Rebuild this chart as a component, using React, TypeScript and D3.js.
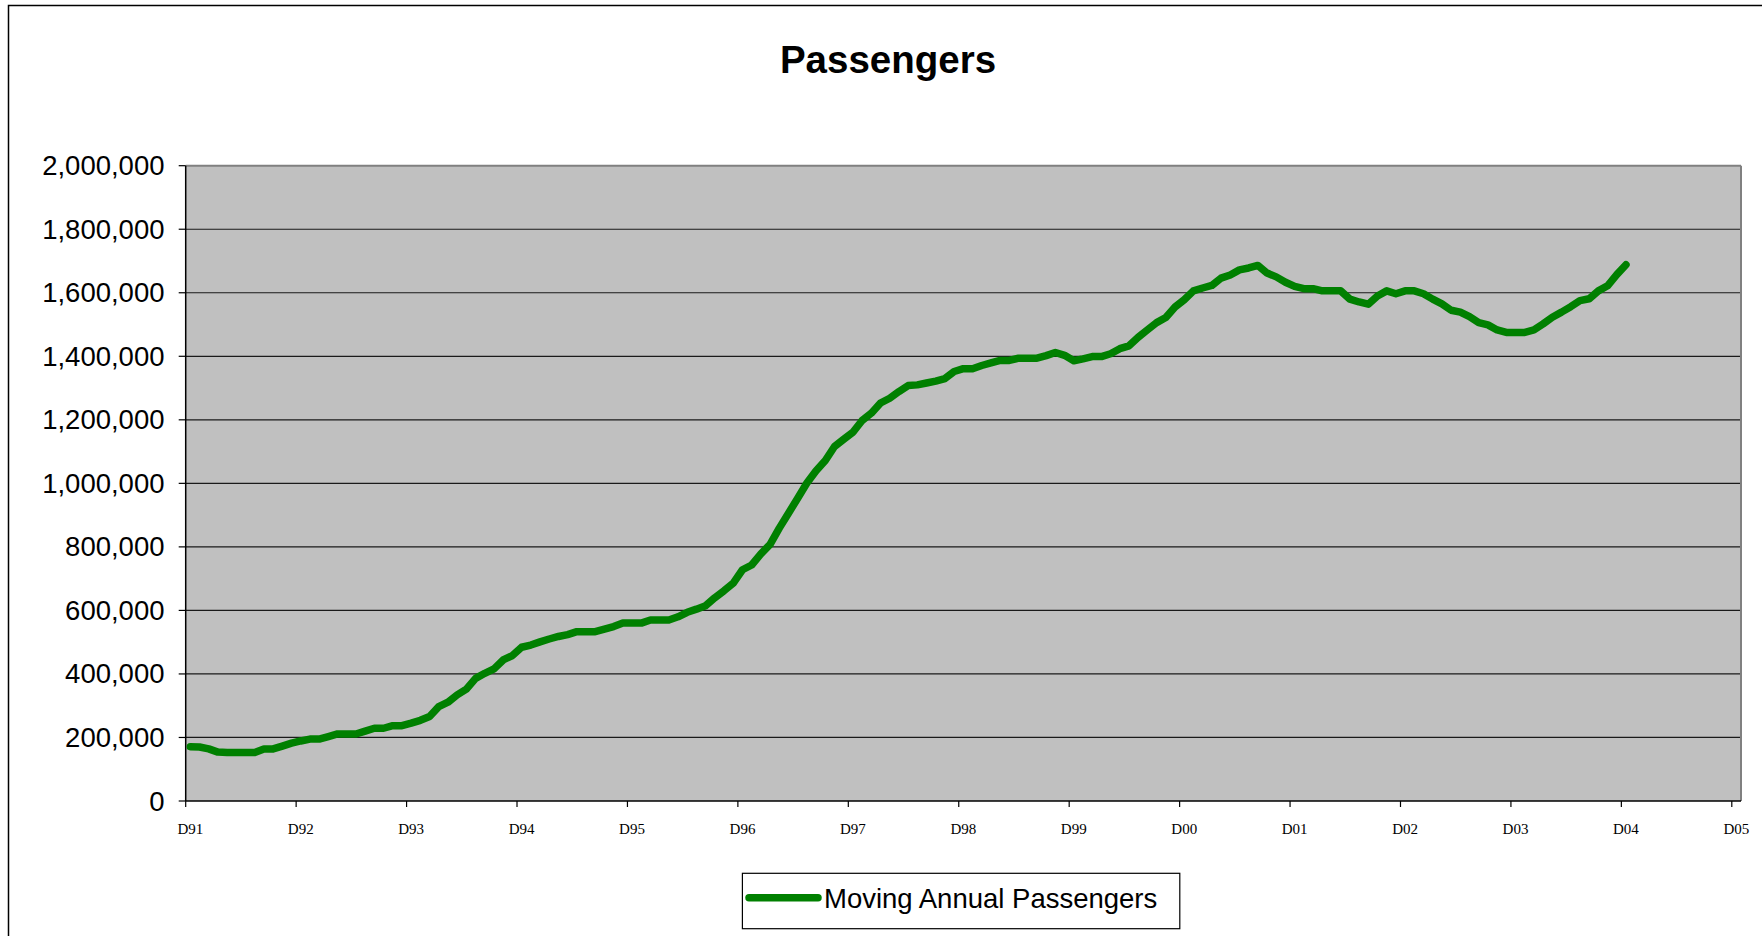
import React from "react";
import * as d3 from "d3";

// Monthly index from D91 (Dec 1991) and moving annual passengers (thousands)
const months: number[] = Array.from({ length: 157 }, (_, i) => i);
const passengersK: number[] = [
  171, 170, 164, 154, 153, 153, 153, 153, 164, 164,
  173, 182, 189, 195, 195, 203, 211, 211, 211, 220,
  229, 229, 237, 237, 245, 254, 266, 297, 311, 334,
  352, 386, 402, 416, 444, 458, 484, 491, 501, 510,
  518, 524, 533, 533, 533, 541, 549, 560, 560, 560,
  570, 570, 570, 580, 594, 604, 615, 640, 662, 686,
  728, 743, 778, 808, 859, 906, 953, 1001, 1040, 1072,
  1116, 1139, 1161, 1198, 1221, 1253, 1268, 1289, 1308, 1310,
  1316, 1322, 1330, 1352, 1361, 1361, 1371, 1379, 1387, 1387,
  1394, 1394, 1394, 1402, 1412, 1403, 1386, 1392, 1399, 1399,
  1408, 1424, 1433, 1460, 1483, 1506, 1522, 1555, 1578, 1606,
  1615, 1623, 1646, 1656, 1672, 1678, 1686, 1662, 1650, 1633,
  1620, 1613, 1613, 1606, 1606, 1606, 1580, 1571, 1564, 1590,
  1606, 1597, 1606, 1606, 1597, 1580, 1565, 1545, 1539, 1525,
  1506, 1499, 1483, 1475, 1475, 1475, 1483, 1502, 1523, 1539,
  1556, 1575, 1581, 1606, 1622, 1657, 1688,
];
const xTickLabels: string[] = [
  "D91", "D92", "D93", "D94", "D95", "D96", "D97", "D98",
  "D99", "D00", "D01", "D02", "D03", "D04", "D05",
];
const yTicks: number[] = [0, 200000, 400000, 600000, 800000, 1000000, 1200000, 1400000, 1600000, 1800000, 2000000];
const title = "Passengers";
const seriesName = "Moving Annual Passengers";

const W = 1762;
const H = 936;
const L = 185.7, R = 1741, T = 165.7, B = 801;

export default function App() {
  const x = d3.scaleLinear().domain([0, 169]).range([L, R]);
  const y = d3.scaleLinear().domain([0, 2000000]).range([B, T]);
  const fmt = d3.format(",");
  const data = months.map((m, i) => ({ m, v: passengersK[i] * 1000 }));
  const line = d3
    .line<{ m: number; v: number }>()
    .x((d) => x(d.m + 0.5))
    .y((d) => y(d.v));

  return (
    <svg
      width={W}
      height={H}
      style={{ position: "absolute", left: 0, top: 0, display: "block", background: "#fff" }}
    >
      <rect x={8.5} y={5.5} width={2000} height={2000} fill="#fff" stroke="#000" strokeWidth={1.5} />
      <text
        x={888}
        y={72.7}
        textAnchor="middle"
        fontFamily="'Liberation Sans', Arial, sans-serif"
        fontWeight="bold"
        fontSize={38.5}
        fill="#000"
      >
        {title}
      </text>

      <rect x={L} y={T} width={R - L} height={B - T} fill="#C0C0C0" />
      {yTicks.slice(1, -1).map((t) => (
        <line key={t} x1={L} x2={R} y1={y(t)} y2={y(t)} stroke="#1a1a1a" strokeWidth={1.2} />
      ))}
      {/* plot border top/right gray */}
      <line x1={L} x2={R} y1={T} y2={T} stroke="#808080" strokeWidth={2} />
      <line x1={R} x2={R} y1={T} y2={B} stroke="#808080" strokeWidth={2} />

      {/* y axis */}
      <line x1={L} x2={L} y1={T} y2={B} stroke="#000" strokeWidth={1.5} />
      {yTicks.map((t) => (
        <g key={t}>
          <line x1={L - 7} x2={L} y1={y(t)} y2={y(t)} stroke="#000" strokeWidth={1.2} />
          <text
            x={164.5}
            y={y(t) + 9.5}
            textAnchor="end"
            fontFamily="'Liberation Sans', Arial, sans-serif"
            fontSize={27.5}
            fill="#000"
          >
            {fmt(t)}
          </text>
        </g>
      ))}

      {/* x axis */}
      <line x1={L} x2={R} y1={B} y2={B} stroke="#000" strokeWidth={1.5} />
      {xTickLabels.map((lab, i) => (
        <g key={lab}>
          <line x1={x(i * 12)} x2={x(i * 12)} y1={B} y2={B + 6} stroke="#000" strokeWidth={1.2} />
          <text
            x={x(i * 12 + 0.5)}
            y={834}
            textAnchor="middle"
            fontFamily="'Liberation Serif', 'Times New Roman', serif"
            fontSize={15}
            fill="#000"
          >
            {lab}
          </text>
        </g>
      ))}

      <path
        d={line(data) || ""}
        fill="none"
        stroke="#008000"
        strokeWidth={7.5}
        strokeLinejoin="round"
        strokeLinecap="round"
      />

      {/* legend */}
      <rect x={742.4} y={873.3} width={437.4} height={55.4} fill="#fff" stroke="#000" strokeWidth={1.2} />
      <line x1={749} x2={818} y1={897.7} y2={897.7} stroke="#008000" strokeWidth={7.5} strokeLinecap="round" />
      <text
        x={824}
        y={907.5}
        fontFamily="'Liberation Sans', Arial, sans-serif"
        fontSize={27.5}
        fill="#000"
      >
        {seriesName}
      </text>
    </svg>
  );
}
